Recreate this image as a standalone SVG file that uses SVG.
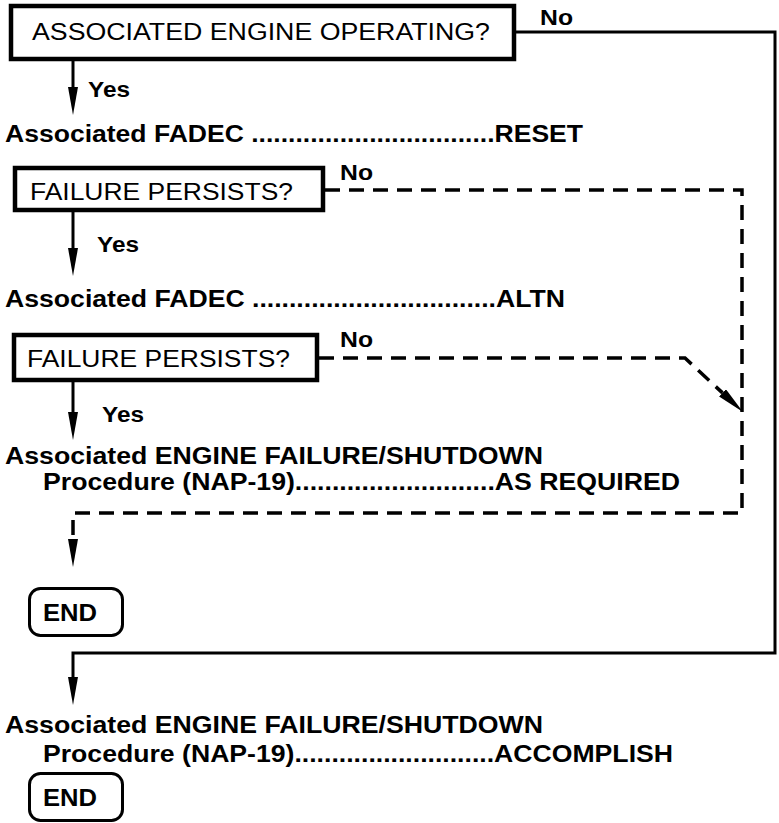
<svg xmlns="http://www.w3.org/2000/svg" width="779" height="823" viewBox="0 0 779 823">
<style>
text{font-family:"Liberation Sans",Arial,Helvetica,sans-serif;fill:#000}
.q{font-size:23px}
.b{font-size:23px;font-weight:bold}
.l{font-size:22px;font-weight:bold}
.box{fill:#fff;stroke:#000;stroke-width:4.5}
.end{fill:#fff;stroke:#000;stroke-width:3}
.solid{fill:none;stroke:#000;stroke-width:3}
.dash{fill:none;stroke:#000;stroke-width:3.5;stroke-dasharray:15 9}
</style>
<defs>
<marker id="ah" viewBox="0 0 28 10" refX="0" refY="5" markerWidth="28" markerHeight="10" markerUnits="userSpaceOnUse" orient="auto">
<path d="M0,0 L28,5 L0,10 z" fill="#000"/>
</marker>
</defs>
<rect width="779" height="823" fill="#fff"/>
<g id="connectors">
<path class="solid" d="M73,61 V87" marker-end="url(#ah)"/>
<path class="solid" d="M73,212 V248" marker-end="url(#ah)"/>
<path class="solid" d="M73,382 V412" marker-end="url(#ah)"/>
<path class="solid" d="M516,32 H775 V653 H73 V677" marker-end="url(#ah)"/>
<path class="dash" d="M325,190 H742 V513 H73 V539" marker-end="url(#ah)"/>
<path class="dash" d="M319,358 H685 L722.5,392.9" marker-end="url(#ah)"/>
<text class="l" x="540" y="25" textLength="33" lengthAdjust="spacingAndGlyphs">No</text>
<text class="l" x="88" y="97" textLength="42" lengthAdjust="spacingAndGlyphs">Yes</text>
<text class="l" x="340" y="180" textLength="33" lengthAdjust="spacingAndGlyphs">No</text>
<text class="l" x="97" y="252" textLength="42" lengthAdjust="spacingAndGlyphs">Yes</text>
<text class="l" x="340" y="347" textLength="33" lengthAdjust="spacingAndGlyphs">No</text>
<text class="l" x="102" y="422" textLength="42" lengthAdjust="spacingAndGlyphs">Yes</text>
</g>
<g id="q1">
<rect class="box" x="11" y="6" width="503" height="53"/>
<text class="q" x="32" y="40" textLength="458" lengthAdjust="spacingAndGlyphs">ASSOCIATED ENGINE OPERATING?</text>
</g>
<g id="step1">
<text class="b" x="5" y="142" textLength="578" lengthAdjust="spacingAndGlyphs">Associated FADEC .................................RESET</text>
</g>
<g id="q2">
<rect class="box" x="15" y="168" width="308" height="42"/>
<text class="q" x="30" y="200" textLength="263" lengthAdjust="spacingAndGlyphs">FAILURE PERSISTS?</text>
</g>
<g id="step2">
<text class="b" x="5" y="307" textLength="560" lengthAdjust="spacingAndGlyphs">Associated FADEC .................................ALTN</text>
</g>
<g id="q3">
<rect class="box" x="14" y="335" width="303" height="45"/>
<text class="q" x="27" y="367" textLength="263" lengthAdjust="spacingAndGlyphs">FAILURE PERSISTS?</text>
</g>
<g id="step3">
<text class="b" x="5" y="464" textLength="538" lengthAdjust="spacingAndGlyphs">Associated ENGINE FAILURE/SHUTDOWN</text>
<text class="b" x="43" y="490" textLength="637" lengthAdjust="spacingAndGlyphs">Procedure (NAP-19)...........................AS REQUIRED</text>
</g>
<g id="end1">
<rect class="end" x="29.5" y="588.5" width="93" height="47" rx="11"/>
<text class="b" x="43" y="621" textLength="54" lengthAdjust="spacingAndGlyphs">END</text>
</g>
<g id="step4">
<text class="b" x="5" y="733" textLength="538" lengthAdjust="spacingAndGlyphs">Associated ENGINE FAILURE/SHUTDOWN</text>
<text class="b" x="43" y="762" textLength="630" lengthAdjust="spacingAndGlyphs">Procedure (NAP-19)...........................ACCOMPLISH</text>
</g>
<g id="end2">
<rect class="end" x="29.5" y="773.5" width="93" height="47" rx="11"/>
<text class="b" x="43" y="806" textLength="54" lengthAdjust="spacingAndGlyphs">END</text>
</g>
</svg>
